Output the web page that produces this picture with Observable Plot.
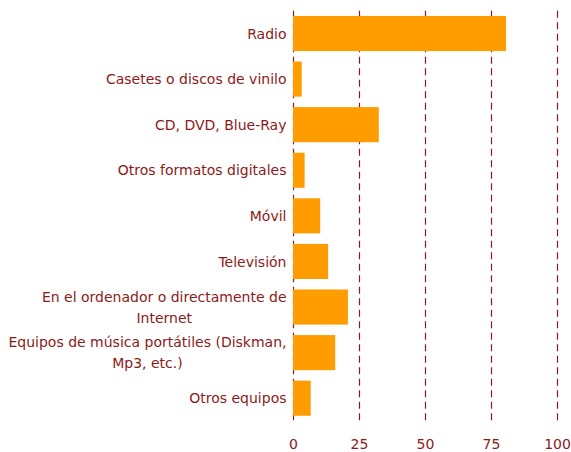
<!DOCTYPE html>
<html>
<head>
<meta charset="utf-8">
<script src="https://cdn.jsdelivr.net/npm/d3@7"></script>
<script src="https://cdn.jsdelivr.net/npm/@observablehq/plot@0.6"></script>
<style>
  body { margin: 0; background: #fff; }
  #chart svg { display: block; }
</style>
</head>
<body>
<div id="chart"></div>
<script>
const categories = [
  "Radio",
  "Casetes o discos de vinilo",
  "CD, DVD, Blue-Ray",
  "Otros formatos digitales",
  "Móvil",
  "Televisión",
  "En el ordenador o directamente de Internet",
  "Equipos de música portátiles (Diskman, Mp3, etc.)",
  "Otros equipos"
];
const labels = [
  "Radio",
  "Casetes o discos de vinilo",
  "CD, DVD, Blue-Ray",
  "Otros formatos digitales",
  "Móvil",
  "Televisión",
  "En el ordenador o directamente de\nInternet",
  "Equipos de música portátiles (Diskman,\nMp3, etc.)",
  "Otros equipos"
];
const values = [80.7, 3.3, 32.5, 4.4, 10.3, 13.3, 20.8, 16.0, 6.7];
const xTicks = [0, 25, 50, 75, 100];

const data = categories.map((c, i) => ({category: c, label: labels[i], value: values[i]}));

const FONT_FAMILY = "DejaVu Sans";
const FONT_SIZE = 14;
const TEXT = "#8b1a1a";
const BAR = "#ff9c00";
const GAP = 7;

const ctx = document.createElement("canvas").getContext("2d");
ctx.font = `${FONT_SIZE}px "${FONT_FAMILY}"`;
const widest = (s) => Math.max(...s.split("\n").map(l => ctx.measureText(l).width));

const labelMarks = data.map(d => {
  const multi = d.label.includes("\n");
  return Plot.text([d], {
    x: () => 0,
    y: "category",
    text: "label",
    textAnchor: multi ? "middle" : "end",
    dx: multi ? -GAP - widest(d.label) / 2 : -GAP,
    dy: -2,
    lineHeight: 1.5,
    fill: TEXT
  });
});

const chart = Plot.plot({
  width: 571,
  height: 452,
  marginLeft: 293,
  marginRight: 14,
  marginTop: 10.7,
  marginBottom: 31,
  style: {fontFamily: FONT_FAMILY, fontSize: FONT_SIZE + "px", color: TEXT, background: "#fff"},
  x: {domain: [0, 100], ticks: xTicks, label: null},
  y: {domain: categories, paddingInner: 0.23, paddingOuter: 0.115, round: false, axis: null, label: null},
  marks: [
    Plot.ruleX(xTicks, {stroke: TEXT, strokeWidth: 1.2, strokeDasharray: "7,4.5"}),
    Plot.barX(data, {y: "category", x: "value", fill: BAR}),
    Plot.axisX(xTicks, {tickSize: 0, tickPadding: 18, fill: TEXT, fontSize: FONT_SIZE, label: null}),
    ...labelMarks
  ]
});
document.getElementById("chart").appendChild(chart);
</script>
</body>
</html>
